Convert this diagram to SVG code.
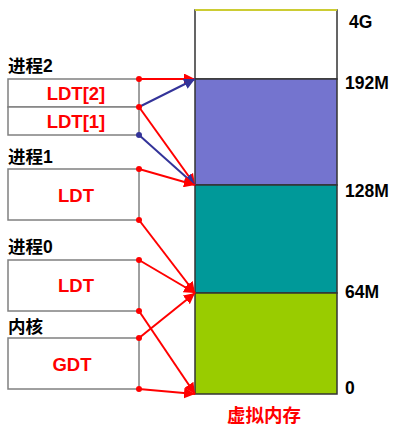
<svg xmlns="http://www.w3.org/2000/svg" width="404" height="436" viewBox="0 0 404 436">
<style>
.box{fill:#fff;stroke:#808080;stroke-width:1.5}
.lbl{font-family:"Liberation Sans","Noto Sans CJK SC",sans-serif;font-weight:bold;font-size:17.5px;fill:#000}
.red{font-family:"Liberation Sans","Noto Sans CJK SC",sans-serif;font-weight:bold;font-size:18.5px;fill:#ff0000;text-anchor:middle}
.mem{stroke:#333;stroke-width:1.5}
.r{stroke:#ff0000;stroke-width:2;fill:none;marker-end:url(#ar)}
.b{stroke:#333399;stroke-width:2;fill:none;marker-end:url(#ab)}
.dr{fill:#ff0000}
.db{fill:#333399}
</style>
<defs>
<marker id="ar" viewBox="0 0 10 10" refX="10" refY="5" markerWidth="5.5" markerHeight="5.5" orient="auto" markerUnits="strokeWidth"><path d="M0,0 L10,5 L0,10 z" fill="#ff0000"/></marker>
<marker id="ab" viewBox="0 0 10 10" refX="10" refY="5" markerWidth="5.5" markerHeight="5.5" orient="auto" markerUnits="strokeWidth"><path d="M0,0 L10,5 L0,10 z" fill="#333399"/></marker>
</defs>
<g id="memory">
<rect x="195" y="10" width="142" height="69" fill="#fff" class="mem"/>
<line x1="195" y1="10" x2="337" y2="10" stroke="#cccc33" stroke-width="2"/>
<rect x="195" y="79" width="142" height="106" fill="#7474cf" class="mem"/>
<rect x="195" y="185" width="142" height="108" fill="#009999" class="mem"/>
<rect x="195" y="293" width="142" height="101" fill="#99cc00" class="mem"/>
<text class="lbl" x="349" y="28">4G</text>
<text class="lbl" x="345" y="89">192M</text>
<text class="lbl" x="345" y="197">128M</text>
<text class="lbl" x="345" y="298">64M</text>
<text class="lbl" x="345" y="394">0</text>
<text class="red" x="264" y="422">虚拟内存</text>
</g>
<g id="proc2">
<text class="lbl" x="8" y="72">进程2</text>
<rect class="box" x="8" y="79" width="131" height="28"/>
<rect class="box" x="8" y="107" width="131" height="28"/>
<text class="red" x="76" y="100">LDT[2]</text>
<text class="red" x="76" y="128">LDT[1]</text>
</g>
<g id="proc1">
<text class="lbl" x="8" y="163">进程1</text>
<rect class="box" x="8" y="169" width="131" height="51"/>
<text class="red" x="76" y="202">LDT</text>
</g>
<g id="proc0">
<text class="lbl" x="8" y="253">进程0</text>
<rect class="box" x="8" y="260" width="131" height="51"/>
<text class="red" x="76" y="292">LDT</text>
</g>
<g id="kernel">
<text class="lbl" x="8" y="333">内核</text>
<rect class="box" x="8" y="338" width="131" height="51"/>
<text class="red" x="72" y="371">GDT</text>
</g>
<g id="connectors">
<path class="r" d="M139,79 L195,79"/>
<path class="b" d="M139,107 L195,79"/>
<path class="r" d="M139,107 L195,185"/>
<path class="b" d="M139,135 L195,185"/>
<path class="r" d="M139,169 L195,185"/>
<path class="r" d="M139,220 L195,293"/>
<path class="r" d="M139,260 L195,293"/>
<path class="r" d="M139,311 L195,394"/>
<path class="r" d="M139,338 L195,293"/>
<path class="r" d="M139,389 L195,394"/>
<circle class="dr" cx="139" cy="79" r="3"/>
<circle class="dr" cx="139" cy="107" r="3"/>
<circle class="db" cx="139" cy="135" r="3"/>
<circle class="dr" cx="139" cy="169" r="3"/>
<circle class="dr" cx="139" cy="220" r="3"/>
<circle class="dr" cx="139" cy="260" r="3"/>
<circle class="dr" cx="139" cy="311" r="3"/>
<circle class="dr" cx="139" cy="338" r="3"/>
<circle class="dr" cx="139" cy="389" r="3"/>
</g>
</svg>
